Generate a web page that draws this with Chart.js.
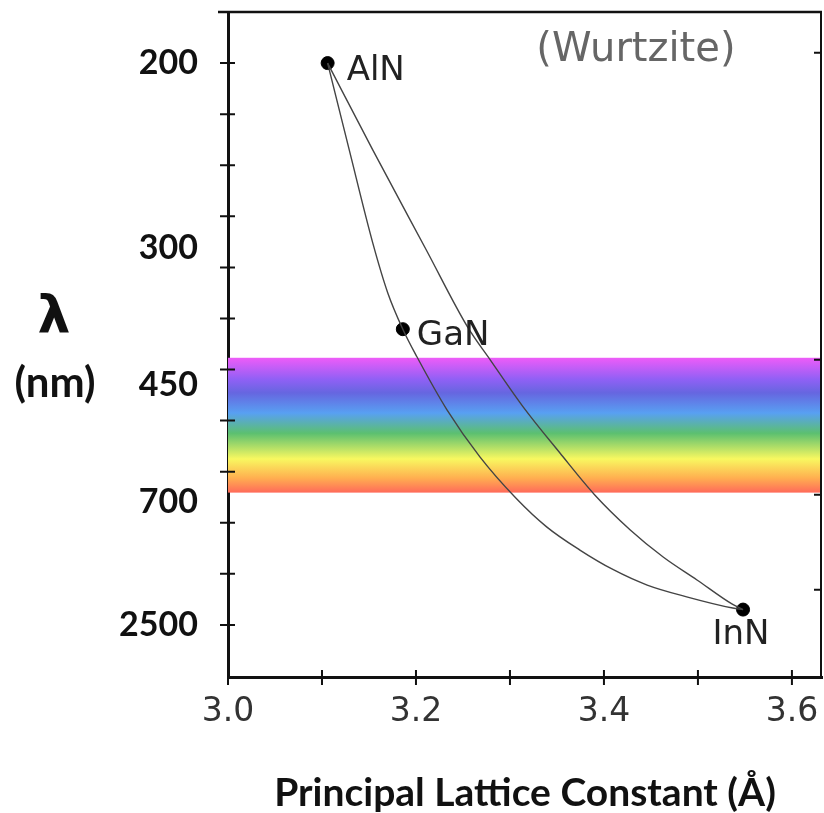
<!DOCTYPE html>
<html>
<head>
<meta charset="utf-8">
<script src="https://cdn.jsdelivr.net/npm/chart.js@4.4.1/dist/chart.umd.min.js"></script>
<style>
  html, body { margin: 0; padding: 0; background: #fff; }
  #wrap { width: 824px; height: 813px; }
</style>
</head>
<body>
<div id="wrap"><canvas id="mycanvas" width="824" height="813"></canvas></div>
<script>
// compounds (lattice constant in A, vertical position in tick units, 0 = 200 nm)
var compounds = ['AlN', 'GaN', 'InN'];
var latticeA = [3.106, 3.186, 3.548];
var levelY = [0, 5.21, 10.70];

// bowing curve AlN -> GaN -> InN
var lowerX = [3.106, 3.129, 3.154, 3.170, 3.186, 3.201, 3.233, 3.268, 3.307, 3.339, 3.374, 3.410, 3.446, 3.488, 3.537, 3.548];
var lowerY = [0, 1.70, 3.52, 4.50, 5.21, 5.75, 6.79, 7.71, 8.53, 9.08, 9.53, 9.92, 10.22, 10.45, 10.67, 10.70];
// direct curve AlN -> InN
var upperX = [3.106, 3.154, 3.211, 3.255, 3.279, 3.314, 3.353, 3.390, 3.428, 3.463, 3.499, 3.537, 3.548];
var upperY = [0, 1.70, 3.66, 5.17, 5.81, 6.73, 7.63, 8.45, 9.14, 9.67, 10.12, 10.60, 10.70];

// axes
var xTicks = [3.0, 3.1, 3.2, 3.3, 3.4, 3.5, 3.6];
var xTickLabels = ['3.0', '', '3.2', '', '3.4', '', '3.6'];
var yLabelPos = [0, 3.62, 6.30, 8.59, 11.0];
var yLabels = ['200', '300', '450', '700', '2500'];
var yMinorTicks = [0, 1, 2, 3, 4, 5, 6, 7, 8, 9, 10, 11];
var yRightTicks = [-0.2, 5.81, 8.45, 10.31];

// visible band
var bandTop = 5.77;
var bandBottom = 8.41;
var bandStops = [0, 0.16, 0.26, 0.41, 0.56, 0.75, 0.89, 1];
var bandColors = ['#ee5cf8', '#9060f5', '#6666e0', '#58a0f2', '#5cc070', '#f8f860', '#ffb050', '#ff6a5a'];

function pts(xs, ys) {
  var out = [];
  for (var i in xs) out.push({x: xs[i], y: ys[i]});
  return out;
}

function noPad(s) {
  s.paddingLeft = 0; s.paddingRight = 0; s.paddingTop = 0; s.paddingBottom = 0;
}

var deco = {
  id: 'deco',
  beforeDatasetsDraw: function(chart) {
    var ctx = chart.ctx, a = chart.chartArea, y = chart.scales.y;
    var t = y.getPixelForValue(bandTop), b = y.getPixelForValue(bandBottom);
    var g = ctx.createLinearGradient(0, t, 0, b);
    for (var i in bandStops) g.addColorStop(bandStops[i], bandColors[i]);
    ctx.save();
    ctx.fillStyle = g;
    ctx.fillRect(a.left, t, a.right - a.left, b - t);
    ctx.restore();
  },
  afterDraw: function(chart) {
    var ctx = chart.ctx, a = chart.chartArea;
    var xs = chart.scales.x, ys = chart.scales.y;
    ctx.save();
    ctx.strokeStyle = '#111';
    ctx.lineWidth = 2.5;
    ctx.beginPath();
    ctx.moveTo(a.left - 10, a.top); ctx.lineTo(a.right, a.top);
    ctx.stroke();
    ctx.lineWidth = 2;
    ctx.beginPath();
    ctx.moveTo(a.right - 1, a.top); ctx.lineTo(a.right - 1, a.bottom);
    ctx.stroke();
    // tick marks crossing the axes
    ctx.lineWidth = 2;
    ctx.beginPath();
    xTicks.forEach(function(v) {
      var px = xs.getPixelForValue(v);
      ctx.moveTo(px, a.bottom - 7); ctx.lineTo(px, a.bottom + 8);
    });
    yMinorTicks.forEach(function(v) {
      var py = ys.getPixelForValue(v);
      ctx.moveTo(a.left - 8, py); ctx.lineTo(a.left + 7, py);
    });
    yRightTicks.forEach(function(v) {
      var py = ys.getPixelForValue(v);
      ctx.moveTo(a.right - 8, py); ctx.lineTo(a.right, py);
    });
    ctx.stroke();

    // compound labels
    var pm = chart.getDatasetMeta(2).data;
    ctx.fillStyle = '#222';
    ctx.font = '34px "DejaVu Sans"';
    ctx.textBaseline = 'middle';
    ctx.textAlign = 'left';
    ctx.fillText(compounds[0], pm[0].x + 19, pm[0].y + 8);
    ctx.fillText(compounds[1], pm[1].x + 14, pm[1].y + 7);
    ctx.textAlign = 'center';
    ctx.fillText(compounds[2], pm[2].x - 2, pm[2].y + 26);

    ctx.fillStyle = '#666';
    ctx.font = '40px "DejaVu Sans"';
    ctx.fillText('(Wurtzite)', xs.getPixelForValue(3.434), ys.getPixelForValue(-0.25));

    // y axis title
    ctx.fillStyle = '#111';
    ctx.font = 'bold 52px "DejaVu Sans"';
    ctx.fillText('λ', 54, 318);
    ctx.font = 'bold 42px Lato';
    ctx.fillText('(nm)', 55, 383);
    ctx.restore();
  }
};

var ctx = document.getElementById('mycanvas');
var chart = new Chart(ctx, {
  type: 'scatter',
  data: {
    datasets: [
      {
        label: 'bowing',
        data: pts(lowerX, lowerY),
        showLine: true,
        borderColor: '#444',
        borderWidth: 1.4,
        pointRadius: 0,
        cubicInterpolationMode: 'monotone'
      },
      {
        label: 'direct',
        data: pts(upperX, upperY),
        showLine: true,
        borderColor: '#444',
        borderWidth: 1.4,
        pointRadius: 0,
        cubicInterpolationMode: 'monotone'
      },
      {
        label: 'compounds',
        data: pts(latticeA, levelY),
        pointRadius: 6.5,
        backgroundColor: '#000',
        borderColor: '#000'
      }
    ]
  },
  options: {
    responsive: false,
    animation: false,
    layout: { autoPadding: false, padding: { top: 12, right: 2, left: 0, bottom: 0 } },
    plugins: { legend: { display: false }, tooltip: { enabled: false } },
    scales: {
      x: {
        type: 'linear',
        min: 3.0,
        max: 3.632,
        afterBuildTicks: function(s) { s.ticks = xTicks.map(function(v) { return {value: v}; }); },
        afterFit: function(s) { s.height = 136; noPad(s); },
        grid: { display: false, drawTicks: false },
        border: { display: true, color: '#111', width: 3 },
        ticks: {
          autoSkip: false,
          maxRotation: 0,
          padding: 16,
          color: '#333',
          font: { family: 'DejaVu Sans', size: 33 },
          callback: function(v, i) { return xTickLabels[i]; }
        },
        title: {
          display: true,
          text: 'Principal Lattice Constant (Å)',
          color: '#111',
          font: { family: 'Lato', size: 39, weight: 'bold', lineHeight: 1 },
          padding: { top: 0, bottom: 0 }
        }
      },
      y: {
        type: 'linear',
        reverse: true,
        min: -1.0,
        max: 12.02,
        afterBuildTicks: function(s) { s.ticks = yLabelPos.map(function(v) { return {value: v}; }); },
        afterFit: function(s) { s.width = 228; noPad(s); },
        grid: { display: false, drawTicks: false },
        border: { display: true, color: '#111', width: 3 },
        ticks: {
          autoSkip: false,
          padding: 30,
          color: '#111',
          font: { family: 'Lato', size: 34, weight: 'bold' },
          callback: function(v, i) { return yLabels[i]; }
        }
      }
    }
  },
  plugins: [deco]
});
</script>
</body>
</html>
